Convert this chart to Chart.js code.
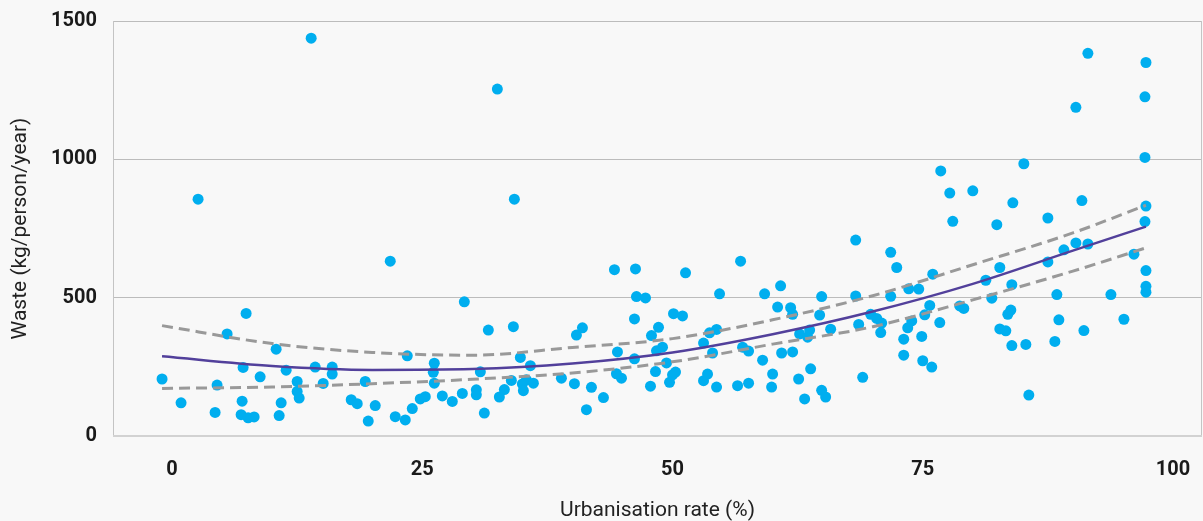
<!DOCTYPE html>
<html>
<head>
<meta charset="utf-8">
<script src="https://cdn.jsdelivr.net/npm/chart.js@4/dist/chart.umd.min.js"></script>
<style>
  html, body { margin: 0; padding: 0; background: #f8f8f8; overflow: hidden; }
  #chart { display: block; }
</style>
</head>
<body>
<canvas id="chart" width="1203" height="521"></canvas>
<script>
// ----- data -----
const urban = [
  -1.0, 0.9, 2.6, 4.3, 4.5, 5.5, 6.9, 7.0, 7.1, 7.4, 7.6, 8.2, 8.8, 10.4, 10.7, 10.9, 11.4, 12.5, 12.5, 12.7,
  13.9, 14.3, 15.1, 16.0, 16.0, 17.9, 18.5, 19.3, 19.6, 20.3, 21.8, 22.3, 23.3, 23.5, 24.0, 24.8, 25.3, 26.1, 26.2, 26.2,
  27.0, 28.0, 29.0, 29.2, 30.4, 30.4, 30.8, 31.2, 31.6, 32.5, 32.7, 33.2, 33.9, 34.1, 34.2, 34.8, 35.0, 35.1, 35.4, 35.8,
  36.1, 38.9, 40.2, 40.4, 41.0, 41.4, 41.9, 43.1, 44.2, 44.4, 44.5, 44.9, 46.2, 46.2, 46.3, 46.4, 47.3, 47.8, 47.9, 48.3,
  48.4, 48.6, 49.0, 49.4, 49.7, 50.0, 50.1, 50.3, 51.0, 51.3, 53.1, 53.1, 53.5, 53.7, 54.0, 54.4, 54.4, 54.7, 56.5, 56.8,
  57.0, 57.6, 57.6, 59.0, 59.2, 59.9, 60.0, 60.5, 60.8, 60.9, 61.8, 62.0, 62.0, 62.6, 62.7, 63.2, 63.5, 63.7, 63.8, 64.7,
  64.9, 64.9, 65.3, 65.8, 68.3, 68.3, 68.6, 69.0, 69.8, 70.4, 70.8, 70.9, 71.8, 71.8, 72.4, 73.1, 73.1, 73.5, 73.6, 73.9,
  74.6, 74.9, 75.0, 75.2, 75.7, 75.9, 76.0, 76.7, 76.8, 77.7, 78.0, 78.7, 79.1, 80.0, 81.3, 81.9, 82.4, 82.7, 82.7, 83.3,
  83.5, 83.8, 83.9, 83.9, 84.0, 85.1, 85.3, 85.6, 87.5, 87.5, 88.2, 88.4, 88.6, 89.1, 90.3, 90.3, 90.9, 91.1, 91.5, 91.5,
  93.8, 95.1, 96.1, 97.2, 97.2, 97.2, 97.3, 97.3, 97.3, 97.3, 97.3
];
const waste = [
  206, 120, 856, 85, 184, 369, 77, 126, 248, 443, 66, 69, 214, 314, 74, 120, 238, 197, 161, 137,
  1438, 249, 190, 249, 224, 131, 117, 197, 54, 110, 632, 70, 58, 290, 99, 134, 142, 230, 263, 191,
  145, 125, 154, 485, 167, 149, 232, 83, 383, 1254, 141, 168, 201, 395, 856, 284, 188, 164, 203, 254,
  191, 209, 189, 365, 391, 95, 176, 139, 601, 225, 304, 209, 423, 279, 604, 504, 499, 180, 363, 233,
  308, 393, 321, 264, 194, 221, 442, 231, 434, 590, 336, 200, 224, 373, 300, 385, 177, 514, 182, 632,
  321, 307, 191, 274, 514, 177, 224, 466, 543, 300, 464, 440, 304, 206, 369, 134, 357, 383, 243, 437,
  504, 165, 141, 386, 708, 506, 403, 212, 440, 425, 374, 408, 664, 505, 609, 350, 292, 391, 532, 416,
  531, 360, 272, 438, 472, 249, 585, 410, 958, 878, 776, 470, 461, 886, 563, 498, 764, 609, 387, 380,
  440, 455, 547, 327, 843, 984, 331, 148, 788, 629, 342, 511, 420, 673, 1188, 698, 851, 381, 1383, 694,
  511, 422, 657, 1226, 1007, 775, 1350, 831, 598, 541, 520
];

// trend line and its band
const fitX = [-1, 10, 20, 30, 40, 50, 60, 70, 80, 90, 97.3];
const fitY = [288, 253, 239, 242, 262, 302, 368, 450, 550, 670, 757];
const upperY = [399, 334, 302, 292, 320, 352, 420, 507, 619, 734, 834];
const lowerY = [172, 177, 189, 205, 228, 268, 332, 395, 492, 596, 680];

const xTicks = [0, 25, 50, 75, 100];
const yTicks = [0, 500, 1000, 1500];

function toPoints(xs, ys) {
    return xs.map((x, i) => ({ x: x, y: ys[i] }));
}

function noPadding(scale) {
    scale.paddingLeft = 0;
    scale.paddingRight = 0;
    scale.paddingTop = 0;
    scale.paddingBottom = 0;
}

// frame round the plot area
const framePlugin = {
    id: 'frame',
    beforeDatasetsDraw(chart) {
        const { ctx, chartArea } = chart;
        ctx.save();
        ctx.strokeStyle = '#c4c4c4';
        ctx.lineWidth = 1;
        ctx.beginPath();
        ctx.moveTo(chartArea.right - 0.5, chartArea.top);
        ctx.lineTo(chartArea.right - 0.5, chartArea.bottom);
        ctx.stroke();
        ctx.strokeStyle = '#d2d2d2';
        ctx.lineWidth = 2;
        ctx.beginPath();
        ctx.moveTo(chartArea.left, chartArea.bottom);
        ctx.lineTo(chartArea.right, chartArea.bottom);
        ctx.stroke();
        ctx.restore();
    }
};

const lineStyle = {
    type: 'scatter',
    showLine: true,
    pointRadius: 0,
    cubicInterpolationMode: 'monotone',
    fill: false,
    order: 0
};

const data_waste = {
    datasets: [
        Object.assign({}, lineStyle, {
            label: 'Upper',
            data: toPoints(fitX, upperY),
            borderColor: '#999999',
            borderWidth: 3,
            borderDash: [11, 6]
        }),
        Object.assign({}, lineStyle, {
            label: 'Lower',
            data: toPoints(fitX, lowerY),
            borderColor: '#999999',
            borderWidth: 3,
            borderDash: [11, 6]
        }),
        Object.assign({}, lineStyle, {
            label: 'Fit',
            data: toPoints(fitX, fitY),
            borderColor: '#52409b',
            borderWidth: 2.5
        }),
        {
            type: 'scatter',
            label: 'Countries',
            data: toPoints(urban, waste),
            backgroundColor: '#00aeef',
            borderWidth: 0,
            pointRadius: 5.5,
            order: 1
        }
    ]
};

const config_waste = {
    type: 'scatter',
    data: data_waste,
    plugins: [framePlugin],
    options: {
        responsive: false,
        animation: false,
        devicePixelRatio: 1,
        layout: {
            autoPadding: false,
            padding: { top: 21, right: 1, left: 0, bottom: 0 }
        },
        plugins: {
            legend: { display: false },
            tooltip: { enabled: false }
        },
        scales: {
            x: {
                type: 'linear',
                min: -5.9,
                max: 102.9,
                afterBuildTicks: (scale) => { scale.ticks = xTicks.map(v => ({ value: v })); },
                afterFit: (scale) => {
                    scale.height = 85;
                    noPadding(scale);
                },
                grid: { display: false, drawTicks: false },
                border: { display: false },
                ticks: {
                    color: '#1a1a1a',
                    font: { family: 'Roboto', size: 20, weight: 'bold' },
                    padding: 22,
                    maxRotation: 0,
                    callback: (v) => String(v)
                },
                title: {
                    display: true,
                    text: 'Urbanisation rate (%)',
                    color: '#222',
                    font: { family: 'Roboto', size: 21, lineHeight: 1 },
                    padding: { top: 0, bottom: 0 }
                }
            },
            y: {
                min: 0,
                max: 1500,
                afterBuildTicks: (scale) => { scale.ticks = yTicks.map(v => ({ value: v })); },
                afterFit: (scale) => {
                    scale.width = 113;
                    noPadding(scale);
                },
                grid: { color: '#bcbcbc', lineWidth: 1, drawTicks: false },
                border: { display: true, color: '#c4c4c4', width: 1 },
                ticks: {
                    color: '#1a1a1a',
                    font: { family: 'Roboto', size: 20, weight: 'bold' },
                    padding: 16,
                    callback: (v) => String(v)
                },
                title: {
                    display: true,
                    text: 'Waste (kg/person/year)',
                    color: '#222',
                    font: { family: 'Roboto', size: 21, lineHeight: 1 },
                    padding: { top: 10, bottom: 0 }
                }
            }
        }
    }
};

var chart_waste = new Chart(
    document.getElementById('chart'),
    config_waste
);
</script>
</body>
</html>
